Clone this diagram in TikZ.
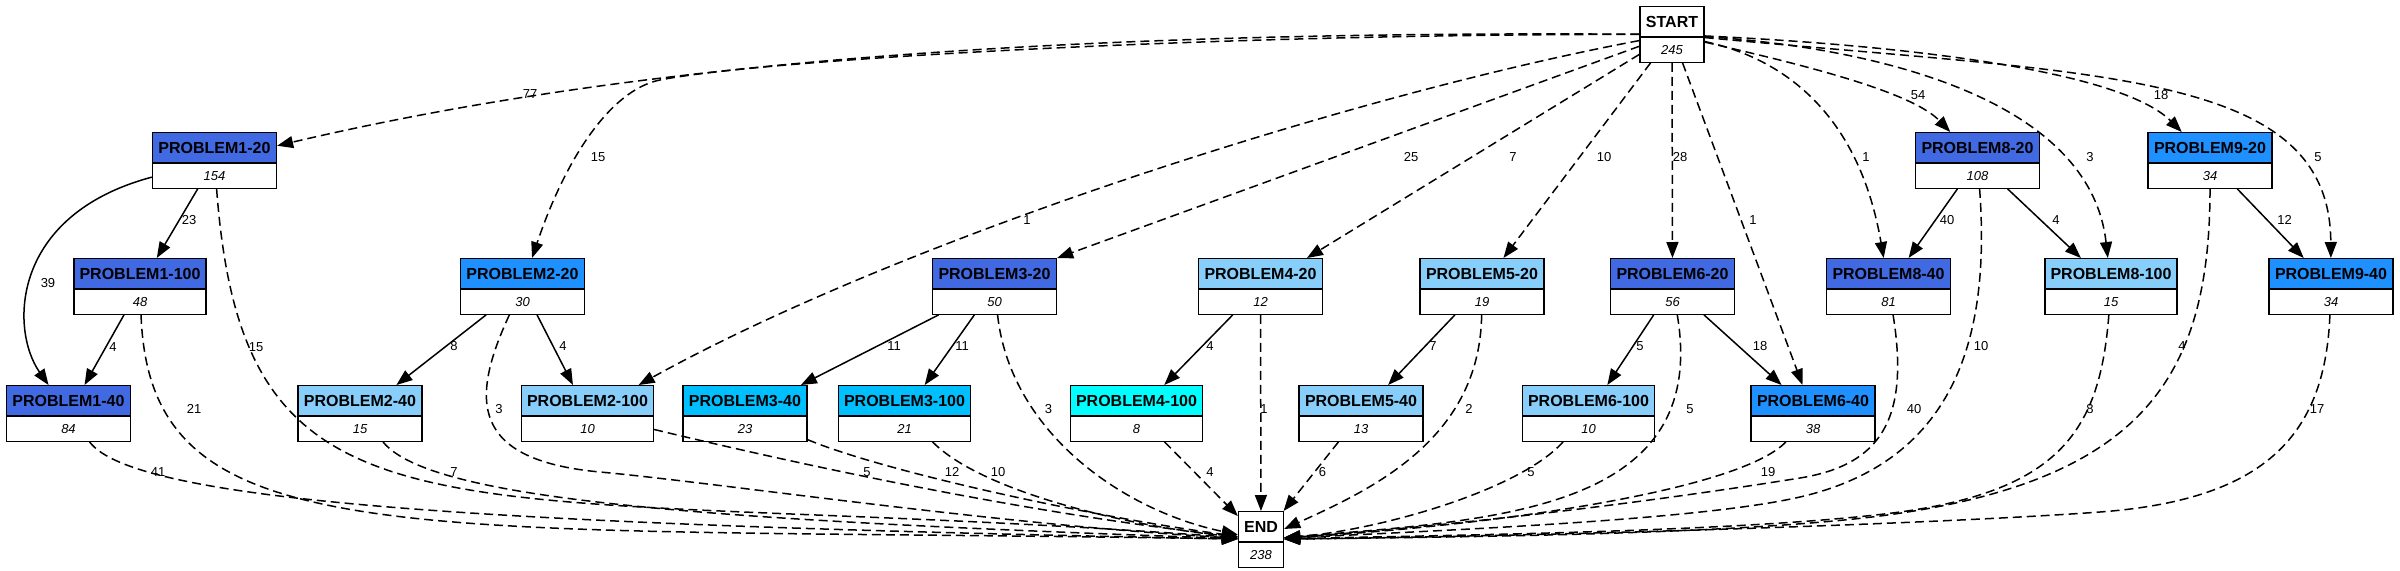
\documentclass[tikz,border=0pt]{standalone}
\usepackage{fontspec}
\setmainfont{Liberation Sans}
\usetikzlibrary{shapes.multipart,arrows.meta}
\definecolor{royal}{RGB}{65,105,225}
\definecolor{dodger}{RGB}{30,144,255}
\definecolor{lsky}{RGB}{135,206,250}
\definecolor{deepsky}{RGB}{0,191,255}
\definecolor{aqua}{RGB}{0,255,255}
\newcommand{\probhead}[1]{\rule[-8.5pt]{0pt}{29pt}\textbf{#1}}
\newcommand{\probcount}[1]{\rule[-7.4pt]{0pt}{24pt}{\fontsize{13}{15}\selectfont\itshape #1}}
\tikzset{
  prob/.style 2 args={rectangle split, rectangle split parts=2, draw, line width=1.3pt,
    inner sep=0pt, minimum width=#1, anchor=north, rectangle split part fill={#2,white},
    font=\fontsize{16}{19}\selectfont},
  arr/.style={-{Triangle[length=16pt,width=12pt]}, line width=1.5pt},
  darr/.style={arr, dash pattern=on 9pt off 5pt},
  lbl/.style={font=\fontsize{13}{15}\selectfont, inner sep=0pt}
}
\begin{document}
\begin{tikzpicture}[x=1pt,y=1pt]
\useasboundingbox (0,0) rectangle (2400,-570);
\node (START) at (1672,-6) [prob={64pt}{white}] {\probhead{START}\nodepart{two}\probcount{245}};
\node (P120) at (214.5,-132) [prob={124pt}{royal}] {\probhead{PROBLEM1-20}\nodepart{two}\probcount{154}};
\node (P820) at (1977.5,-132) [prob={124pt}{royal}] {\probhead{PROBLEM8-20}\nodepart{two}\probcount{108}};
\node (P920) at (2210,-132) [prob={124pt}{dodger}] {\probhead{PROBLEM9-20}\nodepart{two}\probcount{34}};
\node (P1100) at (140,-258) [prob={132pt}{royal}] {\probhead{PROBLEM1-100}\nodepart{two}\probcount{48}};
\node (P220) at (522.5,-258) [prob={124pt}{dodger}] {\probhead{PROBLEM2-20}\nodepart{two}\probcount{30}};
\node (P320) at (994.5,-258) [prob={124pt}{royal}] {\probhead{PROBLEM3-20}\nodepart{two}\probcount{50}};
\node (P420) at (1260.5,-258) [prob={124pt}{lsky}] {\probhead{PROBLEM4-20}\nodepart{two}\probcount{12}};
\node (P520) at (1482,-258) [prob={124pt}{lsky}] {\probhead{PROBLEM5-20}\nodepart{two}\probcount{19}};
\node (P620) at (1672.5,-258) [prob={124pt}{royal}] {\probhead{PROBLEM6-20}\nodepart{two}\probcount{56}};
\node (P840) at (1888.5,-258) [prob={124pt}{royal}] {\probhead{PROBLEM8-40}\nodepart{two}\probcount{81}};
\node (P8100) at (2111,-258) [prob={132pt}{lsky}] {\probhead{PROBLEM8-100}\nodepart{two}\probcount{15}};
\node (P940) at (2331,-258) [prob={124pt}{dodger}] {\probhead{PROBLEM9-40}\nodepart{two}\probcount{34}};
\node (P140) at (68.5,-385) [prob={124pt}{royal}] {\probhead{PROBLEM1-40}\nodepart{two}\probcount{84}};
\node (P240) at (360,-385) [prob={124pt}{lsky}] {\probhead{PROBLEM2-40}\nodepart{two}\probcount{15}};
\node (P2100) at (587.5,-385) [prob={132pt}{lsky}] {\probhead{PROBLEM2-100}\nodepart{two}\probcount{10}};
\node (P340) at (745,-385) [prob={124pt}{deepsky}] {\probhead{PROBLEM3-40}\nodepart{two}\probcount{23}};
\node (P3100) at (904.5,-385) [prob={132pt}{deepsky}] {\probhead{PROBLEM3-100}\nodepart{two}\probcount{21}};
\node (P4100) at (1136.5,-385) [prob={132pt}{aqua}] {\probhead{PROBLEM4-100}\nodepart{two}\probcount{8}};
\node (P540) at (1361,-385) [prob={124pt}{lsky}] {\probhead{PROBLEM5-40}\nodepart{two}\probcount{13}};
\node (P6100) at (1588.5,-385) [prob={132pt}{lsky}] {\probhead{PROBLEM6-100}\nodepart{two}\probcount{10}};
\node (P640) at (1813,-385) [prob={124pt}{dodger}] {\probhead{PROBLEM6-40}\nodepart{two}\probcount{38}};
\node (END) at (1261,-511) [prob={45pt}{white}] {\probhead{END}\nodepart{two}\probcount{238}};
% from START
\draw [darr] (START) .. controls (1000,-30) and (600,-70) .. (P120) node[lbl] at (530,-94) {77};
\draw [darr] (START) .. controls (1200,-34) and (760,-60) .. (660,-80) .. controls (610,-90) and (565,-160) .. (P220) node[lbl] at (598,-157) {15};
\draw [darr] (START) .. controls (1350,-95) and (900,-240) .. (P2100) node[lbl] at (1027,-220) {1};
\draw [darr] (START) -- (P320.north east) node[lbl] at (1411,-157) {25};
\draw [darr] (START) -- (P420) node[lbl] at (1513,-157) {7};
\draw [darr] (START) -- (P520) node[lbl] at (1604,-157) {10};
\draw [darr] (START) -- (P620) node[lbl] at (1680,-157) {28};
\draw [darr] (START) -- (P640) node[lbl] at (1753,-220) {1};
\draw [darr] (START) .. controls (1790,-60) and (1860,-120) .. (P840) node[lbl] at (1866,-157) {1};
\draw [darr] (START) .. controls (1790,-62) and (1910,-90) .. (P820) node[lbl] at (1918,-95) {54};
\draw [darr] (START) .. controls (1880,-48) and (2090,-100) .. (P8100) node[lbl] at (2090,-157) {3};
\draw [darr] (START) .. controls (1900,-45) and (2120,-70) .. (P920) node[lbl] at (2161,-95) {18};
\draw [darr] (START) .. controls (2100,-75) and (2330,-70) .. (P940) node[lbl] at (2318,-157) {5};
% between problems
\draw [arr] (P120) -- (P1100) node[lbl] at (189,-220) {23};
\draw [arr] (P120) .. controls (10,-215) and (10,-330) .. (P140) node[lbl] at (48,-283) {39};
\draw [arr] (P1100) -- (P140) node[lbl] at (113,-347) {4};
\draw [arr] (P220) -- (P240) node[lbl] at (454,-346) {8};
\draw [arr] (P220) -- (P2100) node[lbl] at (563,-346) {4};
\draw [arr] (P320) -- (P340) node[lbl] at (894,-346) {11};
\draw [arr] (P320) -- (P3100) node[lbl] at (962,-346) {11};
\draw [arr] (P420) -- (P4100) node[lbl] at (1210,-346) {4};
\draw [arr] (P520) -- (P540) node[lbl] at (1433,-346) {7};
\draw [arr] (P620) -- (P6100) node[lbl] at (1640,-346) {5};
\draw [arr] (P620) -- (P640) node[lbl] at (1760,-346) {18};
\draw [arr] (P820) -- (P840) node[lbl] at (1947,-220) {40};
\draw [arr] (P820) -- (P8100) node[lbl] at (2056,-220) {4};
\draw [arr] (P920) -- (P940) node[lbl] at (2284.5,-220) {12};
% to END
\draw [darr] (P120) .. controls (245,-570) and (450,-480) .. (END) node[lbl] at (256,-347) {15};
\draw [darr] (P1100) .. controls (150,-560) and (400,-525) .. (END) node[lbl] at (194,-409) {21};
\draw [darr] (P140) .. controls (135,-503) and (500,-525) .. (END) node[lbl] at (158,-472) {41};
\draw [darr] (P240) .. controls (430,-500) and (700,-520) .. (END) node[lbl] at (454,-472) {7};
\draw [darr] (P220) .. controls (470,-400) and (470,-460) .. (600,-472) .. controls (720,-483) and (1000,-525) .. (END) node[lbl] at (499,-409) {3};
\draw [darr] (P2100) .. controls (760,-455) and (1000,-510) .. (END) node[lbl] at (867,-472) {5};
\draw [darr] (P340) .. controls (880,-470) and (1080,-515) .. (END) node[lbl] at (952,-472) {12};
\draw [darr] (P3100) .. controls (980,-490) and (1120,-525) .. (END) node[lbl] at (998,-472) {10};
\draw [darr] (P320) .. controls (1010,-430) and (1120,-510) .. (END) node[lbl] at (1048.5,-409) {3};
\draw [darr] (P4100) -- (END) node[lbl] at (1210,-472) {4};
\draw [darr] (P420) -- (END) node[lbl] at (1264,-409) {1};
\draw [darr] (P540) -- (END) node[lbl] at (1322.5,-472) {6};
\draw [darr] (P520) .. controls (1480,-440) and (1370,-490) .. (END) node[lbl] at (1469,-409) {2};
\draw [darr] (P6100) .. controls (1520,-490) and (1380,-530) .. (END) node[lbl] at (1531,-472) {5};
\draw [darr] (P620) .. controls (1710,-510) and (1500,-520) .. (END) node[lbl] at (1690,-409) {5};
\draw [darr] (P640) .. controls (1740,-490) and (1500,-525) .. (END) node[lbl] at (1768,-472) {19};
\draw [darr] (P840) .. controls (1910,-420) and (1880,-465) .. (1800,-478) .. controls (1600,-510) and (1400,-530) .. (END) node[lbl] at (1914,-409) {40};
\draw [darr] (P820) .. controls (1990,-330) and (1960,-460) .. (1800,-497) .. controls (1700,-520) and (1450,-530) .. (END) node[lbl] at (1981,-346) {10};
\draw [darr] (P8100) .. controls (2100,-430) and (2060,-490) .. (1900,-512) .. controls (1750,-532) and (1450,-535) .. (END) node[lbl] at (2090,-409) {8};
\draw [darr] (P920) .. controls (2210,-380) and (2140,-482) .. (1880,-516) .. controls (1730,-535) and (1450,-537) .. (END) node[lbl] at (2182,-346) {4};
\draw [darr] (P940) .. controls (2325,-440) and (2260,-500) .. (2100,-512) .. controls (1950,-523) and (1600,-535) .. (END) node[lbl] at (2317,-409) {17};
\end{tikzpicture}
\end{document}
